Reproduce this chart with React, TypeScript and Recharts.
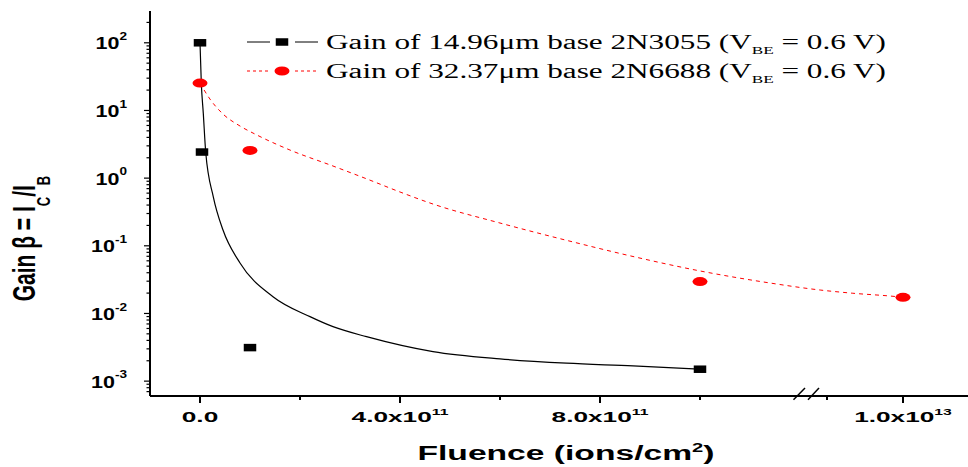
import React from 'react';
import {
  ComposedChart, Line, Scatter, XAxis, YAxis, Legend, ReferenceLine,
} from 'recharts';

const W = 968;
const H = 467;

// measured points (fluence in ions/cm², gain = Ic/Ib)
const pts3055Fluence = [0, 0.04e11, 1e11, 1e12];
const pts3055Gain = [100, 2.43, 0.00313, 0.0015];
const pts6688Fluence = [0, 1e11, 1e12, 1e13];
const pts6688Gain = [25.4, 2.57, 0.0296, 0.0173];

// fitted curves
const fit3055Fluence = [0, 0.026e11, 0.066e11, 0.114e11, 0.266e11, 0.46e11, 0.8e11, 1.46e11, 2.2e11, 2.66e11, 3.33e11, 4.66e11, 6.0e11, 7.33e11, 8.66e11, 1.0e12];
const fit3055Gain = [100, 25.6, 9.06, 2.43, 0.53, 0.171, 0.0557, 0.0177, 0.00897, 0.00638, 0.00454, 0.00273, 0.00213, 0.00184, 0.00168, 0.0015];
const fit6688Fluence = [0, 0.2e11, 0.46e11, 0.8e11, 1.14e11, 1.8e11, 2.66e11, 3.34e11, 4.0e11, 4.66e11, 6.0e11, 7.34e11, 8.66e11, 1.0e12, 1.14e12, 8.91e12, 9.34e12, 9.92e12, 1.0e13];
const fit6688Gain = [25.4, 14.7, 8.85, 5.89, 4.33, 2.6, 1.51, 0.971, 0.624, 0.414, 0.217, 0.12, 0.0695, 0.0425, 0.0282, 0.0222, 0.0199, 0.0177, 0.0173];

// x axis ticks
const xMajorFluence = [0, 4e11, 8e11, 1e13];
const xMajorText = ['0.0', '4.0x10', '8.0x10', '1.0x10'];
const xMajorExp = ['', '11', '11', '13'];
const xMinorFluence = [2e11, 6e11, 1e12, 9e12];

// y axis ticks (decades)
const yMajorTicks = [1e-3, 1e-2, 1e-1, 1e0, 1e1, 1e2];
const yMajorExp = ['-3', '-2', '-1', '0', '1', '2'];
const yMinorMult = [2, 3, 4, 5, 6, 7, 8, 9];

// axis is broken between 1.2e12 and ~8.6e12
function toPos(f: number) {
  return f <= 1.2e12 ? f / 1e11 : 14.06 + ((f - 1e13) / 1e12) * 1.52;
}

const xDomain = [-1, 15.36];
const yDomain = [6.03e-4, 295];

const zip = (xs: number[], ys: number[]) => xs.map((f, i) => ({ pos: toPos(f), g: ys[i] }));
const fit3055 = zip(fit3055Fluence, fit3055Gain);
const fit6688 = zip(fit6688Fluence, fit6688Gain);
const pts3055 = zip(pts3055Fluence, pts3055Gain);
const pts6688 = zip(pts6688Fluence, pts6688Gain);

const xMajorPos = xMajorFluence.map(toPos);
const xTicks = [...xMajorPos, ...xMinorFluence.map(toPos)].sort((a, b) => a - b);
const yTicks = [
  ...yMajorTicks,
  ...[1e-4, ...yMajorTicks].flatMap((d) => yMinorMult.map((m) => m * d)),
].filter((v) => v >= yDomain[0] && v <= yDomain[1]).sort((a, b) => a - b);

// break marks "//" on the x axis (pos, gain)
const breakMarks = [
  [{ x: 11.87, y: 5.3e-4 }, { x: 12.1, y: 7.9e-4 }],
  [{ x: 12.16, y: 5.3e-4 }, { x: 12.38, y: 7.9e-4 }],
];

const SANS = '"Liberation Sans", Arial, sans-serif';
const SERIF = '"Liberation Serif", "Times New Roman", serif';

function XTick(props: any) {
  const { x, y, payload } = props;
  const i = xMajorPos.findIndex((p) => Math.abs(p - payload.value) < 1e-6);
  const major = i >= 0;
  return (
    <g>
      <line x1={x} x2={x} y1={y} y2={y + (major ? 7 : 4)} stroke="#000" strokeWidth={2} />
      {major && (
        <g transform={`translate(${x},${y + 25.5}) scale(1.75,1)`}>
          <text textAnchor="middle" fontFamily={SANS} fontWeight="bold" fontSize={15} fill="#000">
            {xMajorText[i]}
            {xMajorExp[i] && <tspan fontSize={9} dy={-6.5}>{xMajorExp[i]}</tspan>}
          </text>
        </g>
      )}
    </g>
  );
}

function YTick(props: any) {
  const { x, y, payload } = props;
  const i = yMajorTicks.findIndex((v) => Math.abs(Math.log10(v) - Math.log10(payload.value)) < 1e-6);
  const major = i >= 0;
  return (
    <g>
      <line x1={x} x2={x - (major ? 6 : 3.5)} y1={y} y2={y} stroke="#000" strokeWidth={1.2} />
      {major && (
        <g transform={`translate(${x - 23},${y + 6.6}) scale(1.36,1)`}>
          <text textAnchor="end" fontFamily={SANS} fontWeight="bold" fontSize={15.8} fill="#000">
            10<tspan fontSize={10} dy={-9.5}>{yMajorExp[i]}</tspan>
          </text>
        </g>
      )}
    </g>
  );
}

function YLabel() {
  return (
    <g transform="translate(35,238.5) scale(1.45,1) rotate(-90)">
      <text textAnchor="middle" fontFamily={SANS} fontWeight="bold" fontSize={21} fill="#000">
        Gain β = I<tspan fontSize={13} dy={10}>C</tspan>
        <tspan dy={-10}>/I</tspan><tspan fontSize={13} dy={10}>B</tspan>
      </text>
    </g>
  );
}

function XLabel() {
  return (
    <text x={566} y={460} textAnchor="middle" fontFamily={SANS} fontWeight="bold" fontSize={20} fill="#000"
      textLength={297} lengthAdjust="spacingAndGlyphs">
      Fluence (ions/cm<tspan fontSize={12} dy={-8}>2</tspan><tspan dy={8}>)</tspan>
    </text>
  );
}

function LegendBox() {
  const rows = [
    { y: 42, color: '#000', dash: undefined, label: 'Gain of 14.96μm base 2N3055 (V', square: true },
    { y: 71, color: '#ff0000', dash: '3 3', label: 'Gain of 32.37μm base 2N6688 (V', square: false },
  ];
  return (
    <svg width={W} height={100} style={{ display: 'block' }}>
      {rows.map((r) => (
        <g key={r.y}>
          <line x1={247} x2={270} y1={r.y} y2={r.y} stroke={r.color} strokeWidth={1} strokeDasharray={r.dash} />
          <line x1={295} x2={318} y1={r.y} y2={r.y} stroke={r.color} strokeWidth={1} strokeDasharray={r.dash} />
          {r.square
            ? <rect x={282 - 6.25} y={r.y - 3.75} width={12.5} height={7.5} fill="#000" />
            : <ellipse cx={282} cy={r.y} rx={7.5} ry={4.5} fill="#ff0000" />}
          <text x={326} y={r.y + 6.5} fontFamily={SERIF} fontSize={20} fill="#000"
            textLength={560} lengthAdjust="spacingAndGlyphs">
            {r.label}<tspan fontSize={11} dy={5}>BE</tspan><tspan dy={-5}> = 0.6 V)</tspan>
          </text>
        </g>
      ))}
    </svg>
  );
}

const Square = (p: any) => <rect x={p.cx - 6.25} y={p.cy - 3.75} width={12.5} height={7.5} fill="#000" />;
const Dot = (p: any) => <ellipse cx={p.cx} cy={p.cy} rx={7.5} ry={4.5} fill="#ff0000" />;

export default function App() {
  return (
    <div style={{ position: 'absolute', left: 0, top: 0, width: W, height: H, background: '#fff' }}>
      <ComposedChart width={W} height={H} margin={{ top: 11, right: 0, left: 0, bottom: 0 }}>
        <XAxis
          type="number" dataKey="pos" domain={xDomain} allowDataOverflow ticks={xTicks} interval={0}
          height={71} tickSize={0} tickMargin={0} tickLine={false}
          axisLine={{ stroke: '#000', strokeWidth: 2 }} tick={<XTick />} label={<XLabel />}
        />
        <XAxis
          xAxisId="top" orientation="top" type="number" domain={xDomain} allowDataOverflow
          height={0} tick={false} tickLine={false} axisLine={{ stroke: '#333', strokeWidth: 1 }}
        />
        <YAxis
          type="number" dataKey="g" scale="log" domain={yDomain} allowDataOverflow ticks={yTicks} interval={0}
          width={150} tickSize={0} tickMargin={0} tickLine={false}
          axisLine={{ stroke: '#000', strokeWidth: 2 }} tick={<YTick />} label={<YLabel />}
        />
        <Legend
          layout="vertical" align="center" verticalAlign="middle"
          wrapperStyle={{ position: 'absolute', left: 0, top: 0, width: W, height: 100, pointerEvents: 'none' }}
          content={() => <LegendBox />}
        />
        {breakMarks.map((seg, i) => (
          <ReferenceLine key={i} segment={seg} stroke="#000" strokeWidth={1.5} ifOverflow="visible" />
        ))}
        <Line data={fit3055} dataKey="g" type="monotone" stroke="#000" strokeWidth={1.2} dot={false}
          isAnimationActive={false} legendType="none" />
        <Line data={fit6688} dataKey="g" type="monotone" stroke="#ff0000" strokeWidth={1} strokeDasharray="4 4"
          dot={false} isAnimationActive={false} legendType="none" />
        <Scatter data={pts3055} dataKey="g" shape={Square} isAnimationActive={false} legendType="none" />
        <Scatter data={pts6688} dataKey="g" shape={Dot} isAnimationActive={false} legendType="none" />
      </ComposedChart>
    </div>
  );
}
